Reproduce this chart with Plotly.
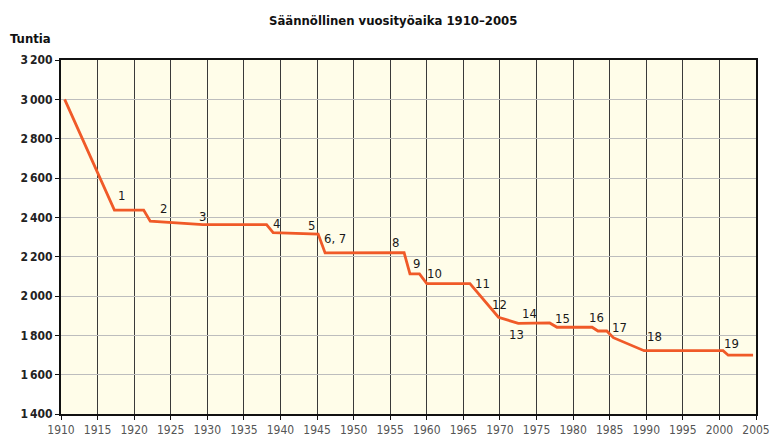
import plotly.graph_objects as go

# Regular annual working hours
years = [1910.5, 1917.3, 1921.3, 1922.2, 1929.4, 1938.1, 1939.0, 1945.15, 1946.1,
         1956.9, 1957.7, 1959.0, 1960.0, 1965.9, 1969.8, 1972.5, 1976.8, 1977.8,
         1982.6, 1983.4, 1984.6, 1985.5, 1989.7, 2000.5, 2001.2, 2004.6]
hours = [3000, 2437, 2437, 2380, 2363, 2363, 2322, 2315, 2219,
         2220, 2112, 2112, 2063, 2063, 1892, 1861, 1863, 1841,
         1841, 1822, 1822, 1788, 1722, 1722, 1699, 1699]

label_texts = ["1", "2", "3", "4", "5", "6, 7", "8", "9", "10", "11", "12", "13",
               "14", "15", "16", "17", "18", "19"]
label_years = [1918.3, 1924.0, 1929.3, 1939.4, 1944.2, 1947.4, 1955.7, 1958.6, 1961.1,
               1967.6, 1969.9, 1972.2, 1974.0, 1978.5, 1983.2, 1986.4, 1991.1, 2001.6]
label_hours = [2510, 2446, 2403, 2370, 2361, 2290, 2271, 2166, 2116,
               2065, 1956, 1805, 1912, 1887, 1892, 1841, 1793, 1760]

x_ticks = list(range(1910, 2006, 5))
y_ticks = list(range(1400, 3201, 200))
y_tick_text = [f"{v // 1000}\u2009{v % 1000:03d}" for v in y_ticks]

FONT = "DejaVu Sans Condensed, Noto Sans, sans-serif"

fig = go.Figure()
fig.add_trace(go.Scatter(x=years, y=hours, mode="lines",
                         line=dict(color="#F05A28", width=2.8),
                         hoverinfo="skip", showlegend=False))

for t, xv, yv in zip(label_texts, label_years, label_hours):
    fig.add_annotation(x=xv, y=yv, text=t, showarrow=False,
                       font=dict(family=FONT, size=13, color="#1a1a1a"))

fig.add_annotation(xref="paper", yref="paper", x=0.478, y=1.0, yshift=40,
                   text="<b>Säännöllinen vuosityöaika 1910–2005</b>", showarrow=False,
                   font=dict(family=FONT, size=13, color="#111"),
                   xanchor="center", yanchor="middle")
fig.add_annotation(xref="paper", yref="paper", x=0, y=1.0, xshift=-53, yshift=22,
                   text="<b>Tuntia</b>", showarrow=False, xanchor="left", yanchor="middle",
                   font=dict(family=FONT, size=13, color="#111"))

fig.update_layout(
    width=770, height=436,
    margin=dict(l=61, r=14, t=60, b=22),
    paper_bgcolor="white", plot_bgcolor="#FFFDE9",
    font=dict(family=FONT),
)
fig.update_xaxes(range=[1910, 2005], tickvals=x_ticks, ticktext=[str(v) for v in x_ticks],
                 showgrid=True, gridcolor="#3a3a3a", gridwidth=1, automargin=False,
                 showline=True, linecolor="#111", linewidth=2, mirror=True,
                 ticks="outside", ticklen=4, tickcolor="#111",
                 tickfont=dict(family=FONT, size=12, color="#555"), zeroline=False)
fig.update_yaxes(range=[1400, 3200], tickvals=y_ticks, ticktext=[f"<b>{s}</b>" for s in y_tick_text],
                 showgrid=True, gridcolor="#bdbdbd", gridwidth=1, automargin=False,
                 showline=True, linecolor="#111", linewidth=2, mirror=True,
                 ticks="outside", ticklen=4, tickcolor="#111",
                 tickfont=dict(family=FONT, size=12, color="#222"), zeroline=False)

fig.write_html("out.html", config={"displayModeBar": False},
               post_script="document.body.style.margin='0';document.body.style.padding='0';")
